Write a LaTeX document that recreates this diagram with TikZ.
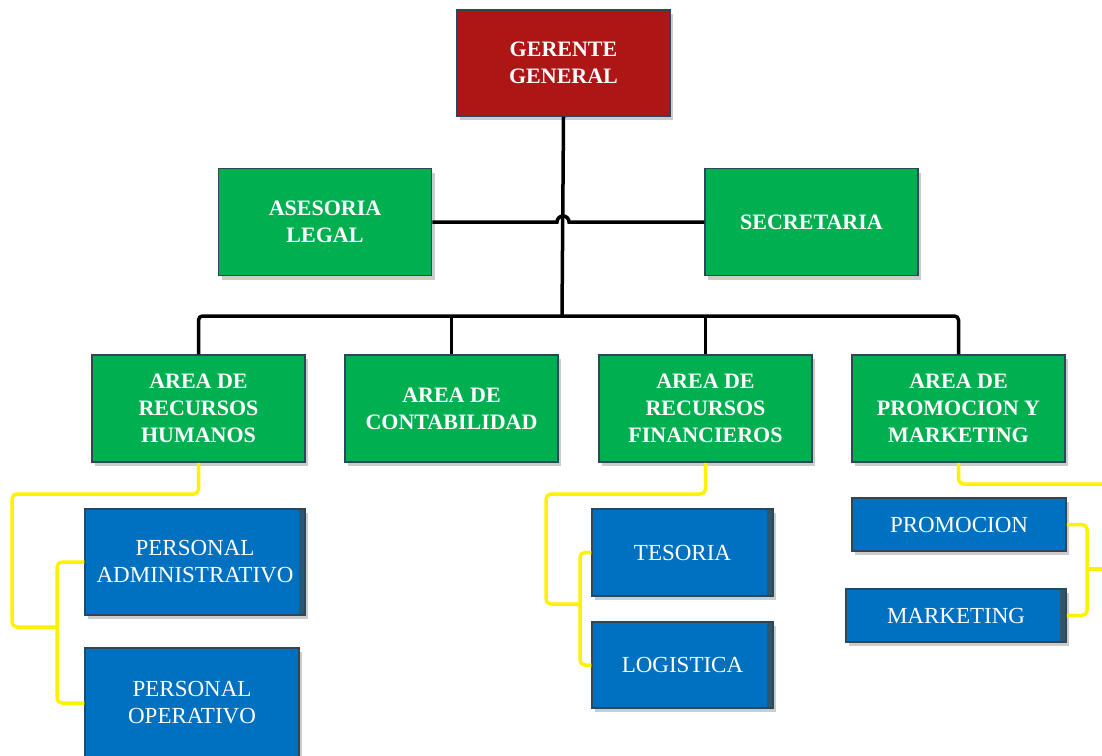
\documentclass[tikz,border=0pt]{standalone}
\usepackage{fontspec}
\setmainfont{Liberation Serif}
\usetikzlibrary{positioning, shadows}

\definecolor{gerred}{HTML}{AE1515}
\definecolor{areagreen}{HTML}{00B050}
\definecolor{subblue}{HTML}{0070C0}
\definecolor{edgegray}{HTML}{2E4756}
\definecolor{stripblue}{HTML}{30566E}

\begin{document}
\begin{tikzpicture}[x=1pt,y=-1pt,
   box/.style={draw=edgegray,line width=1.5pt,align=center,text=white,inner sep=2pt,
      drop shadow={shadow xshift=3pt,shadow yshift=-4pt,opacity=0.4}},
   redbox/.style={box,fill=gerred,font=\fontsize{22}{27}\selectfont\bfseries,
      minimum width=213pt,minimum height=106pt},
   greenbox/.style={box,fill=areagreen,font=\fontsize{22}{27}\selectfont\bfseries,
      minimum width=213pt,minimum height=107pt},
   bluebox/.style={box,fill=subblue,font=\fontsize{23}{27}\selectfont},
   sidestrip/.style={path picture={\fill[stripblue]
      ([xshift=-6pt]path picture bounding box.north east)
      rectangle (path picture bounding box.south east);}},
   bline/.style={line width=3.5pt,rounded corners=4pt},
   yline/.style={draw=yellow,line width=3.5pt,rounded corners=5pt}]

   \useasboundingbox (0,0) rectangle (1102,755);

   % top
   \node[redbox]   (gerente)    at (563.5,63)  {GERENTE\\GENERAL};
   \node[greenbox] (asesoria)   at (325,222)   {ASESORIA\\LEGAL};
   \node[greenbox] (secretaria) at (811.5,222) {SECRETARIA};

   % areas
   \node[greenbox] (rrhh)    at (198.5,408.5) {AREA DE\\RECURSOS\\HUMANOS};
   \node[greenbox] (contab)  at (451.5,408.5) {AREA DE\\CONTABILIDAD};
   \node[greenbox] (finan)   at (705.5,408.5) {AREA DE\\RECURSOS\\FINANCIEROS};
   \node[greenbox] (market)  at (958.5,408.5) {AREA DE\\PROMOCION Y\\MARKETING};

   % sub areas
   \node[bluebox,sidestrip,minimum width=220pt,minimum height=106pt] (padmin) at (195,562) {PERSONAL\\ADMINISTRATIVO};
   \node[bluebox,minimum width=214pt,minimum height=110pt] (poper) at (192,703) {PERSONAL\\OPERATIVO};
   \node[bluebox,sidestrip,minimum width=181pt,minimum height=87pt] (tesoria) at (682.5,552.5) {TESORIA};
   \node[bluebox,sidestrip,minimum width=181pt,minimum height=86pt] (logist) at (682.5,665) {LOGISTICA};
   \node[bluebox,minimum width=214pt,minimum height=53pt] (promo) at (959,524.5) {PROMOCION};
   \node[bluebox,sidestrip,minimum width=220pt,minimum height=53pt] (mkting) at (956,615.5) {MARKETING};

   \coordinate (bus) at (562,316);
   \coordinate (hopL) at (557,222);
   \coordinate (rhL) at (12,494);
   \coordinate (rhJ) at (57,627);
   \coordinate (fiL) at (546,494);
   \coordinate (fiJ) at (580,604);
   \coordinate (mkR) at (1104,484);
   \coordinate (mkJ) at (1087,569);
   \coordinate (mkE) at (1104,569);

   % black lines
   \draw[bline] (gerente.south) -- (bus);
   \draw[line width=3.5pt] (asesoria.east) -- (hopL)
      arc[start angle=180,end angle=360,radius=6] -- (secretaria.west);
   \draw[bline] (rrhh.north) |- (bus) -| (market.north);
   \draw[bline] (contab.north) -- (contab.north |- bus);
   \draw[bline] (finan.north) -- (finan.north |- bus);

   % yellow lines
   \draw[yline] (rrhh.south) |- (rhL) |- (rhJ);
   \draw[yline] (padmin.west) -| (rhJ) |- (poper.west);
   \draw[yline] (finan.south) |- (fiL) |- (fiJ);
   \draw[yline] (tesoria.west) -| (fiJ) |- (logist.west);
   \draw[yline] (market.south) |- (mkR);
   \draw[yline] (promo.east) -| (mkJ) |- (mkting.east);
   \draw[yline] (mkJ) -- (mkE);

\end{tikzpicture}
\end{document}
